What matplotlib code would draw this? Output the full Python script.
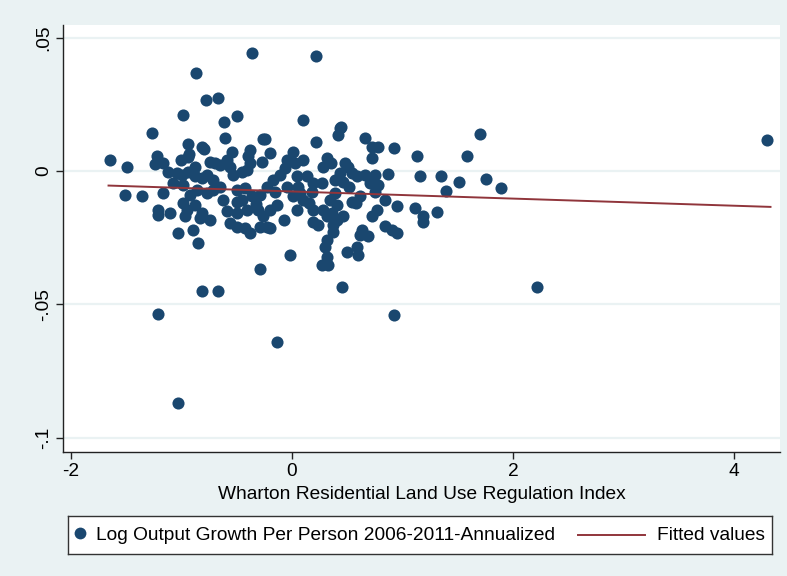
import matplotlib
matplotlib.use("Agg")
import matplotlib.pyplot as plt

plt.rcParams['font.family'] = ['Liberation Sans', 'DejaVu Sans']

# Wharton index (x) vs annualized log output growth per person (y)
wrluri = [
    -0.984, -0.500, -0.615, -1.264, -0.606, -0.265, -0.244, -0.938, -0.817, -0.796,
    -0.929, -0.938, -1.224, -1.240, -0.546, -0.380, -0.395, -0.380, -0.404, -0.199,
    -0.274, 0.012, -0.048, 0.027, -0.742, -0.697, -0.652, -0.591, -0.561, -0.531,
    -1.164, -1.119, -1.044, -0.998, -0.938, -0.878, -0.817, -0.772, -0.712, -1.080,
    -0.984, -1.360, -1.164, -0.923, -0.863, -0.772, -0.712, -0.652, -0.500, -0.425,
    -0.365, -0.449, -0.500, -0.290, -0.229, -0.169, -0.109, -0.048, 0.012, -0.138,
    0.042, -0.984, -0.953, -0.968, -0.878, -0.817, -0.833, -0.742, -1.213, -1.213,
    -1.104, -0.591, -0.500, -0.410, -0.305, -0.259, -0.199, -0.561, -0.500, -0.425,
    -0.380, -0.290, -0.229, -0.199, -0.070, -1.029, -0.893, -0.848, -0.018, -0.290,
    -1.650, -1.490, -1.511,
    0.103, 0.434, 0.419, 0.440, 0.217, 0.664, 0.721, 0.781, 0.923, 0.721,
    1.128, 1.581, 0.103, 0.314, 0.284, 0.480, 0.510, 0.434, 0.389, 0.464,
    0.540, 0.585, 0.661, 0.751, 0.706, 0.781, 0.872, 1.158, 1.346, 1.514,
    1.391, 0.042, 0.133, 0.057, 0.193, 0.269, 0.178, 0.072, 0.344, 0.404,
    0.540, 0.615, 0.751, 0.842, 0.947, 0.193, 0.284, 0.359, 0.464, 0.721,
    0.766, 1.113, 1.188, 1.188, 1.315, 0.193, 0.238, 0.314, 0.374, 0.404,
    0.842, 0.902, 0.947, 0.630, 0.615, 0.691, 0.374, 0.314, 0.299, 0.314,
    0.269, 0.329, 0.495, 0.585, 0.600, 0.100, 0.386, 0.582,
    1.700, 1.753, 1.889, 4.300, -0.872, -0.781, -0.673, -0.365, 0.217, -0.817,
    -0.673, 0.450, -1.216, -0.139, -1.029, 2.220, 0.923,
    -0.450, -0.330, -0.150, -0.620, -0.060, 0.150, 0.350, 0.520, -1.000, -0.880,
]
growth = [
    0.0211, 0.0207, 0.0185, 0.0141, 0.0125, 0.0119, 0.0119, 0.0101, 0.0089, 0.0081,
    0.0064, 0.0051, 0.0056, 0.0026, 0.0069, 0.0079, 0.0054, 0.0029, 0.0004, 0.0066,
    0.0035, 0.0072, 0.0041, 0.0029, 0.0035, 0.0029, 0.0023, 0.0041, 0.0016, -0.0015,
    0.0029, -0.0003, -0.0009, -0.0015, -0.0003, -0.0021, -0.0027, -0.0015, -0.0034, -0.0046,
    -0.0052, -0.0096, -0.0084, -0.0090, -0.0071, -0.0084, -0.0071, -0.0059, -0.0071, -0.0065,
    -0.0096, -0.0109, -0.0115, -0.0090, -0.0059, -0.0034, -0.0015, -0.0059, -0.0096, -0.0127,
    -0.0146, -0.0121, -0.0146, -0.0171, -0.0127, -0.0159, -0.0177, -0.0184, -0.0146, -0.0165,
    -0.0159, -0.0152, -0.0159, -0.0146, -0.0146, -0.0171, -0.0146, -0.0196, -0.0209, -0.0215,
    -0.0234, -0.0209, -0.0209, -0.0215, -0.0184, -0.0234, -0.0221, -0.0269, -0.0315, -0.0369,
    0.0039, 0.0014, -0.0090,
    0.0191, 0.0160, 0.0135, 0.0166, 0.0110, 0.0125, 0.0091, 0.0091, 0.0085, 0.0048,
    0.0054, 0.0054, 0.0041, 0.0048, 0.0016, 0.0029, 0.0016, -0.0009, -0.0034, -0.0040,
    -0.0009, -0.0021, -0.0015, -0.0015, -0.0046, -0.0052, -0.0011, -0.0019, -0.0019, -0.0042,
    -0.0074, -0.0021, -0.0021, -0.0059, -0.0046, -0.0046, -0.0078, -0.0084, -0.0109, -0.0127,
    -0.0115, -0.0096, -0.0078, -0.0109, -0.0131, -0.0146, -0.0146, -0.0159, -0.0171, -0.0171,
    -0.0146, -0.0140, -0.0169, -0.0190, -0.0154, -0.0190, -0.0202, -0.0171, -0.0202, -0.0184,
    -0.0206, -0.0221, -0.0234, -0.0221, -0.0240, -0.0244, -0.0228, -0.0259, -0.0284, -0.0321,
    -0.0352, -0.0352, -0.0303, -0.0284, -0.0315, -0.0109, -0.0084, -0.0121,
    0.0137, -0.0030, -0.0065, 0.0117, 0.0366, 0.0264, 0.0273, 0.0441, 0.0432, -0.0449,
    -0.0449, -0.0436, -0.0536, -0.0642, -0.0871, -0.0434, -0.0540,
    -0.0005, -0.0125, -0.0080, -0.0110, 0.0010, -0.0120, 0.0030, -0.0060, 0.0040, 0.0015,
]

# OLS fit endpoints
fit_x = [-1.66, 4.33]
fit_y = [-0.0055, -0.0135]

xticks = [-2, 0, 2, 4]
yticks = [0.05, 0, -0.05, -0.1]
ytick_labels = ['.05', '0', '-.05', '-.1']

navy = '#1a476f'
maroon = '#90353b'
bg = '#eaf2f3'
fs = 13.8

fig = plt.figure(figsize=(7.87, 5.76), dpi=100, facecolor=bg)
ax = fig.add_axes([63 / 787, 1 - 452 / 576, 717 / 787, 427 / 576])
ax.set_facecolor('white')

ax.scatter(wrluri, growth, s=76, color=navy, linewidths=0, zorder=3)
ax.plot(fit_x, fit_y, color=maroon, lw=1.4, zorder=4)

ax.set_xlim(-2.072, 4.416)
ax.set_ylim(-0.1054, 0.0547)
ax.set_xticks(xticks)
ax.set_xticklabels([str(t) for t in xticks])
ax.set_yticks(yticks)
ax.set_yticklabels(ytick_labels, rotation=90, va='center')
ax.yaxis.grid(True, color=bg, lw=1.6, zorder=0)
ax.set_axisbelow(True)
for side in ['top', 'right']:
    ax.spines[side].set_visible(False)
for side in ['left', 'bottom']:
    ax.spines[side].set_color('#222222')
    ax.spines[side].set_linewidth(1.0)
ax.tick_params(direction='out', length=5, width=1, color='#222222', labelsize=fs, pad=3)
ax.set_xlabel('Wharton Residential Land Use Regulation Index', fontsize=fs, labelpad=4)

# legend box drawn in pixel units
leg = fig.add_axes([68 / 787, 1 - 554 / 576, 704 / 787, 38 / 576])
leg.set_xlim(0, 704)
leg.set_ylim(0, 38)
leg.set_xticks([])
leg.set_yticks([])
leg.set_facecolor('white')
for s in leg.spines.values():
    s.set_color('#333333')
    s.set_linewidth(1.0)
leg.plot([12], [21], 'o', ms=8.5, color=navy, mec='none')
leg.text(28, 18, 'Log Output Growth Per Person 2006-2011-Annualized', va='center', fontsize=fs)
leg.plot([510, 577], [19, 19], color=maroon, lw=1.4)
leg.text(589, 18, 'Fitted values', va='center', fontsize=fs)

fig.savefig('out.png', dpi=100, facecolor=bg)
